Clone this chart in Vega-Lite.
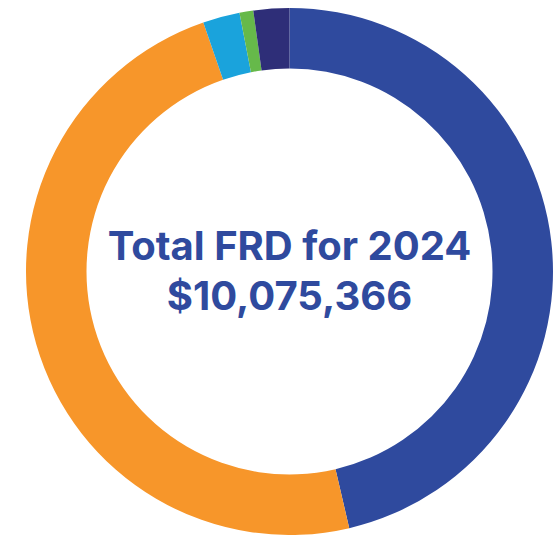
{
  "$schema": "https://vega.github.io/schema/vega-lite/v6.json",
  "width": 554,
  "height": 535,
  "autosize": {"type": "fit", "contains": "padding"},
  "padding": {"left": 25, "right": 0, "top": 8, "bottom": 0},
  "background": "white",
  "view": {"stroke": null},
  "layer": [
    {
      "data": {"values": [
        {"category": "A", "order": 1, "amount": 4671000},
        {"category": "B", "order": 2, "amount": 4870000},
        {"category": "C", "order": 3, "amount": 228000},
        {"category": "D", "order": 4, "amount": 85000},
        {"category": "E", "order": 5, "amount": 221366}
      ]},
      "mark": {"type": "arc", "outerRadius": 263.5, "innerRadius": 203},
      "encoding": {
        "theta": {"field": "amount", "type": "quantitative", "stack": true},
        "order": {"field": "order", "type": "quantitative"},
        "color": {"field": "category", "type": "nominal", "legend": null,
          "scale": {"domain": ["A","B","C","D","E"], "range": ["#2F4A9E","#F7962A","#1AA3DC","#66B94A","#2E2E78"]}}
      }
    },
    {
      "data": {"values": [{"label": ["Total FRD for 2024", "$10,075,366"]}]},
      "mark": {"type": "text", "font": "Inter", "fontWeight": 700, "fontSize": 40, "lineHeight": 50, "color": "#2F4A9E", "align": "center", "baseline": "middle", "dy": -24},
      "encoding": {"text": {"field": "label"}}
    }
  ]
}
